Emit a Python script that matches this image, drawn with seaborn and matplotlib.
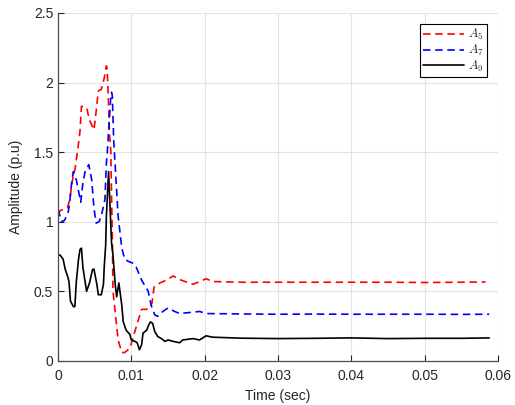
import matplotlib
matplotlib.use("Agg")
import matplotlib.pyplot as plt
import seaborn as sns
import pandas as pd

# ---- data ----
t_a5 = [0.0, 0.0003, 0.0008, 0.0013, 0.0016, 0.0021, 0.0023, 0.0027, 0.0030, 0.0032,
        0.0039, 0.0043, 0.0049, 0.0052, 0.0055, 0.0059, 0.0063, 0.0066, 0.0067, 0.0069,
        0.0070, 0.0072, 0.0073, 0.0074, 0.0075, 0.0078, 0.0082, 0.0087, 0.0091, 0.0098,
        0.0107, 0.0114, 0.0121, 0.0128, 0.0131, 0.0139, 0.0148, 0.0157, 0.0168, 0.0184,
        0.0193, 0.0202, 0.0211, 0.025, 0.030, 0.035, 0.040, 0.045, 0.050, 0.055, 0.0583]
a5 = [1.05, 1.08, 1.09, 1.10, 1.16, 1.34, 1.37, 1.52, 1.65, 1.83,
      1.82, 1.73, 1.66, 1.79, 1.94, 1.95, 2.03, 2.12, 2.10, 1.84,
      1.65, 1.51, 1.20, 0.92, 0.50, 0.35, 0.15, 0.06, 0.06, 0.09,
      0.25, 0.37, 0.37, 0.41, 0.53, 0.56, 0.58, 0.61, 0.58, 0.55,
      0.57, 0.59, 0.57, 0.565, 0.565, 0.565, 0.565, 0.565, 0.563, 0.565, 0.567]

t_a7 = [0.0, 0.0005, 0.0009, 0.0014, 0.0016, 0.0019, 0.0021, 0.0025, 0.0031, 0.0034,
        0.0037, 0.0042, 0.0046, 0.0049, 0.0052, 0.0056, 0.0059, 0.0064, 0.0066, 0.0067,
        0.0072, 0.0073, 0.0074, 0.0075, 0.0076, 0.0078, 0.0082, 0.0087, 0.0091, 0.0096,
        0.0103, 0.0107, 0.0114, 0.0123, 0.0127, 0.0132, 0.0136, 0.0143, 0.0150, 0.0159,
        0.0166, 0.0193, 0.0202, 0.025, 0.030, 0.035, 0.040, 0.045, 0.050, 0.055, 0.0588]
a7 = [1.09, 1.00, 1.01, 1.07, 1.14, 1.30, 1.36, 1.30, 1.14, 1.28,
      1.36, 1.41, 1.30, 1.10, 0.99, 1.00, 1.04, 1.16, 1.42, 1.48,
      1.90, 1.93, 1.91, 1.75, 1.58, 1.40, 1.04, 0.81, 0.73, 0.715,
      0.70, 0.67, 0.58, 0.50, 0.40, 0.33, 0.32, 0.355, 0.38, 0.355,
      0.34, 0.355, 0.34, 0.337, 0.335, 0.336, 0.335, 0.335, 0.335, 0.334, 0.335]

t_a9 = [0.0, 0.0003, 0.0007, 0.0010, 0.0013, 0.0015, 0.0017, 0.0021, 0.0023, 0.0025,
        0.0028, 0.0030, 0.0032, 0.0034, 0.0039, 0.0043, 0.0047, 0.0049, 0.0053, 0.0055,
        0.0059, 0.0062, 0.0063, 0.0065, 0.0066, 0.0069, 0.0073, 0.0075, 0.0078, 0.0080,
        0.0083, 0.0087, 0.0089, 0.0093, 0.0098, 0.0100, 0.0105, 0.0108, 0.0111, 0.0114,
        0.0116, 0.0121, 0.0123, 0.0126, 0.0129, 0.0132, 0.0136, 0.0141, 0.0146, 0.0150,
        0.0157, 0.0166, 0.0170, 0.0184, 0.0193, 0.0202, 0.0211, 0.025, 0.030, 0.035,
        0.040, 0.045, 0.050, 0.055, 0.0588]
a9 = [0.76, 0.76, 0.73, 0.655, 0.61, 0.57, 0.43, 0.39, 0.39, 0.57,
      0.73, 0.80, 0.81, 0.67, 0.50, 0.56, 0.655, 0.66, 0.55, 0.475,
      0.475, 0.55, 0.67, 0.83, 1.04, 1.36, 0.85, 0.76, 0.55, 0.46,
      0.56, 0.40, 0.28, 0.22, 0.19, 0.15, 0.14, 0.13, 0.08, 0.115,
      0.20, 0.22, 0.25, 0.28, 0.27, 0.21, 0.175, 0.16, 0.14, 0.15,
      0.14, 0.13, 0.15, 0.16, 0.15, 0.18, 0.17, 0.163, 0.16, 0.162,
      0.165, 0.16, 0.162, 0.162, 0.165]

x_ticks = [0, 0.01, 0.02, 0.03, 0.04, 0.05, 0.06]
x_tick_labels = ["0", "0.01", "0.02", "0.03", "0.04", "0.05", "0.06"]
y_ticks = [0, 0.5, 1, 1.5, 2, 2.5]
y_tick_labels = ["0", "0.5", "1", "1.5", "2", "2.5"]

# ---- plotting ----
sns.set_theme(style="whitegrid")
plt.rcParams["font.family"] = ["Liberation Sans", "DejaVu Sans"]
plt.rcParams["mathtext.fontset"] = "cm"

fig = plt.figure(figsize=(5.15, 4.05), dpi=100)
ax = fig.add_axes([0.1126, 0.109, 0.8544, 0.859])

df5 = pd.DataFrame({"t": t_a5, "v": a5})
df7 = pd.DataFrame({"t": t_a7, "v": a7})
df9 = pd.DataFrame({"t": t_a9, "v": a9})

sns.lineplot(data=df5, x="t", y="v", ax=ax, color=(1, 0, 0), linewidth=1.2,
             linestyle=(0, (4.5, 2.8)), label="$A_5$", sort=False)
sns.lineplot(data=df7, x="t", y="v", ax=ax, color=(0, 0, 1), linewidth=1.2,
             linestyle=(0, (4.5, 2.8)), label="$A_7$", sort=False)
sns.lineplot(data=df9, x="t", y="v", ax=ax, color="black", linewidth=1.2,
             linestyle="-", label="$A_9$", sort=False)

ax.set_xlim(0, 0.06)
ax.set_ylim(0, 2.5)
ax.set_xticks(x_ticks)
ax.set_xticklabels(x_tick_labels)
ax.set_yticks(y_ticks)
ax.set_yticklabels(y_tick_labels)
ax.set_xlabel("Time (sec)", fontsize=10, color="#262626", labelpad=4)
ax.set_ylabel("Amplitude (p.u)", fontsize=10, color="#262626", labelpad=8)

ax.grid(True, color="#e3e3e3", linewidth=0.8)
for side in ["top", "right"]:
    ax.spines[side].set_visible(False)
for side in ["left", "bottom"]:
    ax.spines[side].set_visible(True)
    ax.spines[side].set_color("#4d4d4d")
    ax.spines[side].set_linewidth(0.9)
ax.tick_params(axis="both", direction="in", length=4, width=0.8,
               colors="#262626", labelsize=10, bottom=True, left=True)
ax.tick_params(axis="x", pad=6)

leg = ax.legend(loc="upper right", frameon=True, fancybox=False, fontsize=9,
                handlelength=3.3, handletextpad=0.3, borderpad=0.25,
                labelspacing=0.05, borderaxespad=0.9)
leg.get_frame().set_edgecolor("black")
leg.get_frame().set_linewidth(0.8)
leg.get_frame().set_alpha(1)

fig.savefig("out.png", dpi=100)
